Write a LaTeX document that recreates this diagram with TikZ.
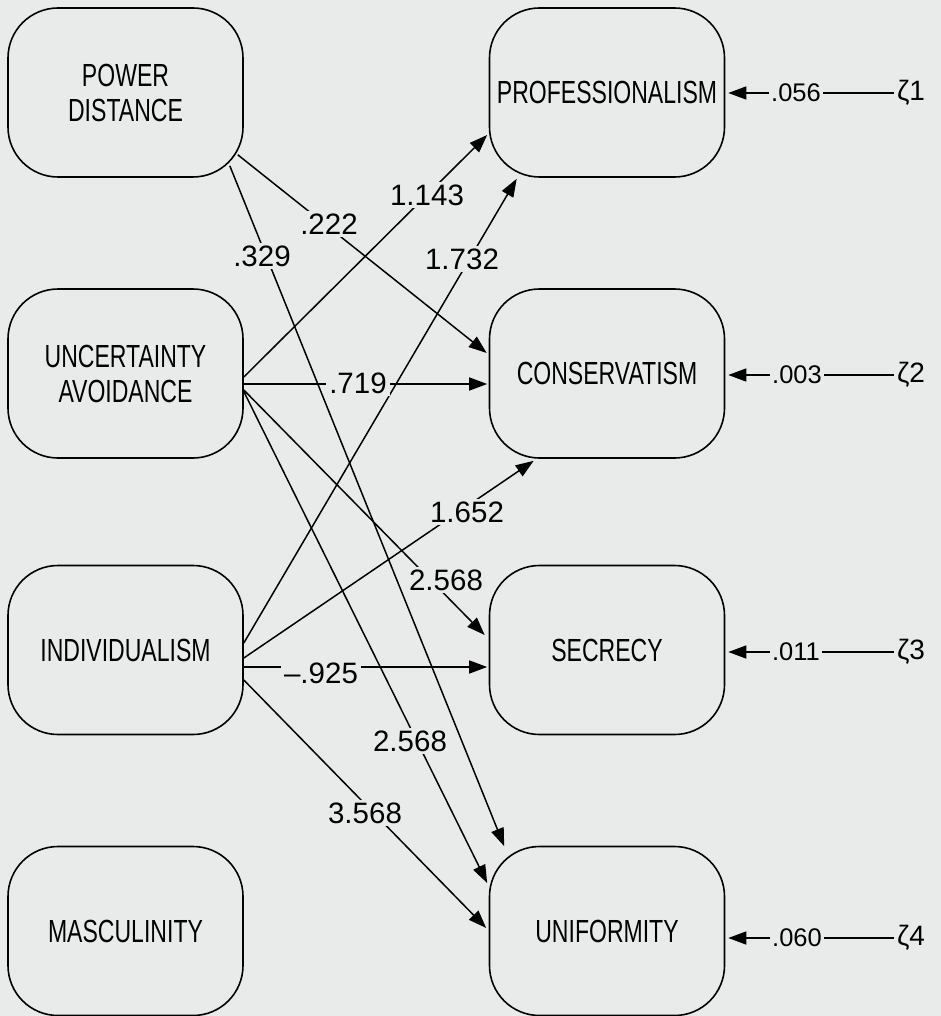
\documentclass[tikz,border=0pt]{standalone}
\usepackage{fontspec}
\setmainfont{Liberation Sans}
\newfontfamily\condfont[FakeStretch=0.72]{Liberation Sans}
\usetikzlibrary{arrows.meta,calc}
\definecolor{bg}{RGB}{233,235,235}
\begin{document}
\begin{tikzpicture}[x=1pt,y=-1pt,
  box/.style={draw, line width=1.6pt, rounded corners=50pt, minimum width=235pt,
    minimum height=169pt, align=center, inner sep=0pt,
    font=\condfont\fontsize{32}{35}\selectfont},
  conn/.style={line width=1.5pt, -{Triangle[length=18pt,width=13pt]}},
  plain/.style={line width=1.5pt},
  plab/.style={fill=bg, inner sep=3pt, font=\fontsize{29.5}{31}\selectfont},
  elab/.style={inner sep=2pt, font=\fontsize{25.5}{28}\selectfont},
  zlab/.style={inner sep=3pt, font=\fontsize{28}{30}\selectfont}]
\fill[bg] (0,0) rectangle (941,1016);
\useasboundingbox (0,0) rectangle (941,1016);

% left boxes
\node[box] (pd)   at (125.5,92.5)  {POWER\\DISTANCE};
\node[box] (ua)   at (125.5,373.5) {UNCERTAINTY\\AVOIDANCE};
\node[box] (ind)  at (125.5,650)   {INDIVIDUALISM};
\node[box] (masc) at (125.5,931)   {MASCULINITY};
% right boxes
\node[box] (prof) at (607,92.5)  {PROFESSIONALISM};
\node[box] (cons) at (607,373.5) {CONSERVATISM};
\node[box] (sec)  at (607,650)   {SECRECY};
\node[box] (unif) at (607,931)   {UNIFORMITY};

% path connectors
\draw[conn] ($(pd.south east)+(-6,-23)$) -- ($(cons.west)+(-2,-20.5)$);
\draw[conn] ($(pd.south east)+(-14,-12)$) -- ($(unif.north west)+(15.5,0.5)$);
\draw[conn] ($(ua.east)+(0,3.5)$) -- ($(prof.west)+(-1.5,42.5)$);
\draw[conn] ($(ua.east)+(0,10.5)$) -- ($(cons.west)+(-1.5,10.5)$);
\draw[conn] ($(ua.east)+(0,16.5)$) -- ($(sec.west)+(-4,-15)$);
\draw[conn] ($(ua.east)+(0,18)$) -- ($(unif.west)+(-1.5,-48)$);
\draw[conn] ($(ind.east)+(0,-7)$) -- ($(prof.south west)+(28,1)$);
\draw[conn] ($(ind.east)+(0,8)$) -- ($(cons.south west)+(45,2)$);
\draw[conn] ($(ind.east)+(0,17)$) -- ($(sec.west)+(-1.5,17)$);
\draw[conn] ($(ind.east)+(0,30)$) -- ($(unif.west)+(-2.5,-3)$);

% path labels
\node[plab] (l222)  at (329,224) {.222};
\node[plab] (l329)  at (262,256) {.329};
\node[plab] (l1143) at (427,195) {1.143};
\node[plab] (l1732) at (462,259) {1.732};
\node[plab] (l719)  at (358,383) {.719};
\node[plab] (l1652) at (467,512) {1.652};
\node[plab] (l2568a) at (446,580) {2.568};
\node[plab] (l925)  at (321,673) {–.925};
\node[plab] (l2568b) at (410,741) {2.568};
\node[plab] (l3568) at (365,813) {3.568};

% disturbances
\node[zlab] (z1) at (911,93)  {ζ1};
\node[zlab] (z2) at (911,375) {ζ2};
\node[zlab] (z3) at (911,652) {ζ3};
\node[zlab] (z4) at (911,938) {ζ4};
\node[elab] (e1) at (796,93)  {.056};
\node[elab] (e2) at (797,375) {.003};
\node[elab] (e3) at (796,652) {.011};
\node[elab] (e4) at (797,938) {.060};
\draw[plain] (e1) -- (z1);
\draw[plain] (e2) -- (z2);
\draw[plain] (e3) -- (z3);
\draw[plain] (e4) -- (z4);
\draw[conn] (e1.west) -- ($(prof.east)+(3,0.5)$);
\draw[conn] (e2.west) -- ($(cons.east)+(3,1.5)$);
\draw[conn] (e3.west) -- ($(sec.east)+(3,2)$);
\draw[conn] (e4.west) -- ($(unif.east)+(3,7)$);
\end{tikzpicture}
\end{document}
